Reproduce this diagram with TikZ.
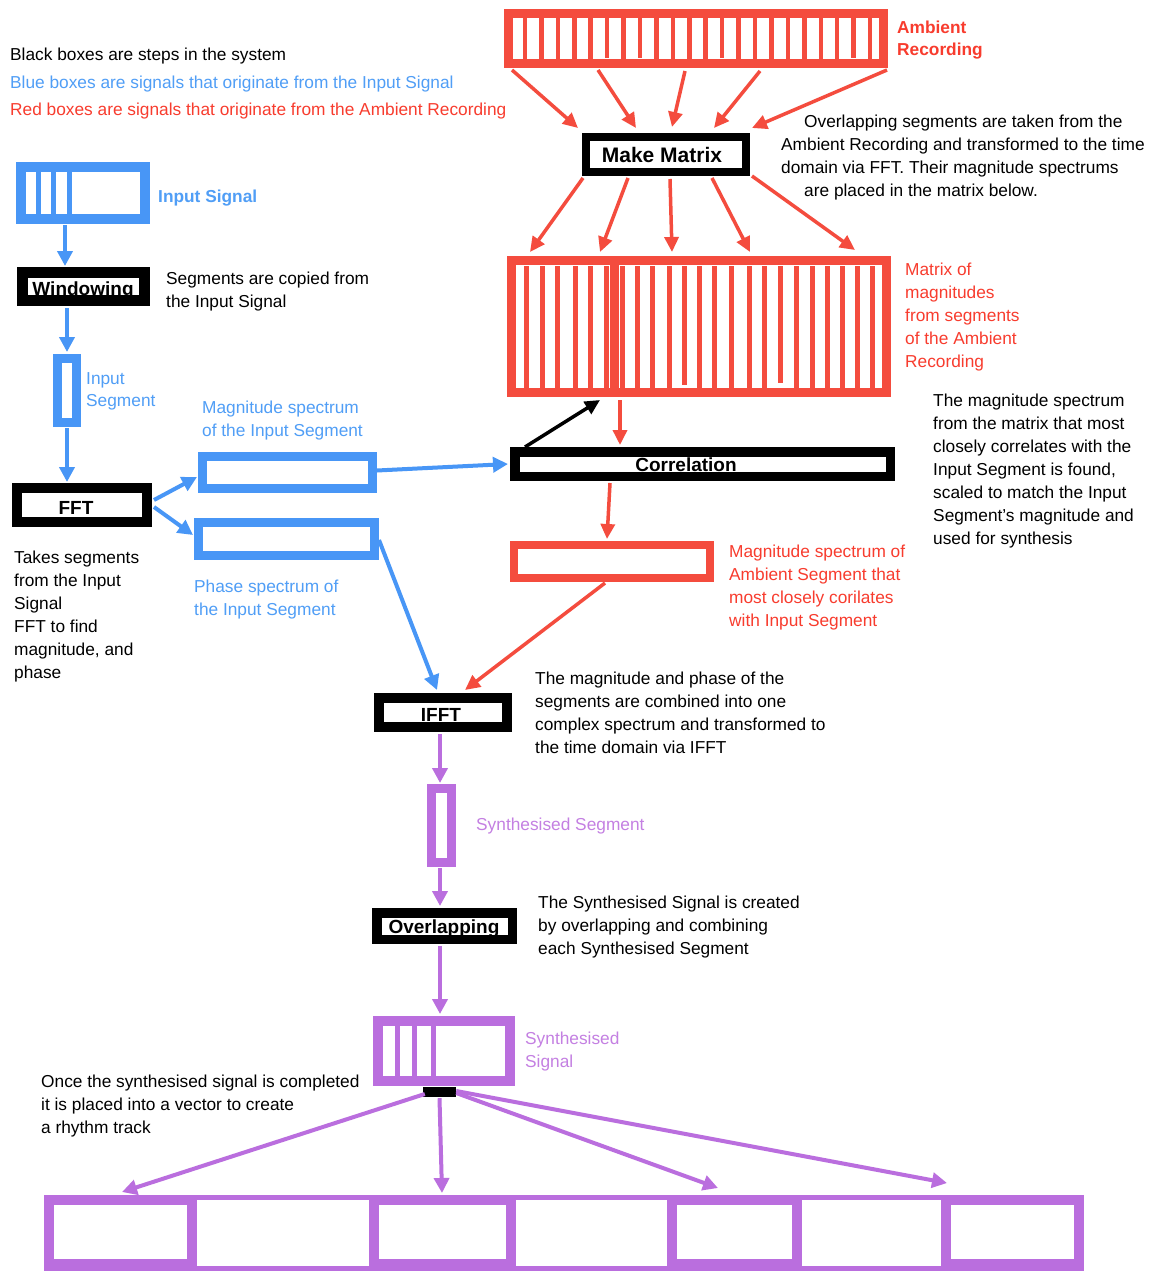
\documentclass[tikz,border=0pt]{standalone}
\usepackage{fontspec}
\setmainfont{Liberation Sans}
\usetikzlibrary{arrows.meta,calc}
\definecolor{cred}{RGB}{244,76,62}
\definecolor{cblue}{RGB}{72,150,246}
\definecolor{cpurp}{RGB}{186,110,222}
\definecolor{tred}{RGB}{248,60,46}
\definecolor{tblue}{RGB}{80,158,246}
\definecolor{tpurp}{RGB}{196,128,226}
\newcommand\mlines[1]{\begin{tabular}[t]{@{}l@{}}#1\end{tabular}}
\begin{document}
\begin{tikzpicture}[x=1pt,y=-1pt,
  redbox/.style={draw=cred, fill=white, inner sep=0pt, line width=9pt},
  bluebox/.style={draw=cblue, fill=white, inner sep=0pt, line width=9pt},
  purpbox/.style={draw=cpurp, fill=white, inner sep=0pt, line width=9pt},
  stepbox/.style={draw=black, fill=white, inner sep=0pt, line width=10pt},
  slot/.style={draw=cpurp, fill=white, line width=10pt, inner sep=0pt, minimum height=64pt},
  steplabel/.style={font=\fontsize{19}{23}\selectfont\bfseries, anchor=base, inner sep=0pt},
  txt/.style={font=\fontsize{17.3}{23}\selectfont, anchor=base west, inner sep=0pt},
  redarr/.style={draw=cred, line width=3.5pt, -{Triangle[length=15pt,width=14pt]}},
  bluearr/.style={draw=cblue, line width=4pt, -{Triangle[length=15pt,width=15pt]}},
  purparr/.style={draw=cpurp, line width=4pt, -{Triangle[length=15pt,width=15pt]}},
  blackarr/.style={draw=black, line width=3.5pt, -{Triangle[length=15pt,width=14pt]}},
]
\fill[white] (0,0) rectangle (1152,1271);
\useasboundingbox (0,0) rectangle (1152,1271);

% legend
\node[txt] (leg1) at (10,61) {Black boxes are steps in the system};
\node[txt, text=tblue] (leg2) at (10,89) {Blue boxes are signals that originate from the Input Signal};
\node[txt, text=tred] (leg3) at (10,116) {Red boxes are signals that originate from the Ambient Recording};

% ambient recording
\node[redbox, minimum width=375pt, minimum height=50pt] (amb) at (696,38.5) {};
\foreach \i/\b in {0/60,1/60,2/59,3/60,4/60,5/58,6/59,7/58,8/60,9/60,10/59,11/60,12/58,13/60,14/60,15/59,16/60,17/59,18/60,19/60,20/58,21/60}
  \fill[cred] ({525+16.43*\i-2.25},17) rectangle ({525+16.43*\i+2.25},\b);
\node[txt, text=tred, font=\fontsize{17.3}{22}\selectfont\bfseries] (ambT) at (897,34) {\mlines{Ambient\\Recording}};

% make matrix
\node[stepbox, line width=8pt, minimum width=160pt, minimum height=35pt] (mm) at (666,154.5) {};
\node[steplabel, font=\fontsize{21}{25}\selectfont\bfseries] (mmL) at (662,162.5) {Make Matrix};
\node[txt] (mmT) at (781,128) {\mlines{\hspace*{23pt}Overlapping segments are taken from the\\Ambient Recording and transformed to the time\\domain via FFT. Their magnitude spectrums\\\hspace*{23pt}are placed in the matrix below.}};

% matrix
\node[redbox, minimum width=375pt, minimum height=132pt] (mat) at (699,326.5) {};
\foreach \x/\b in {526/388,542/388,557/388,575/388,590/388,606/388,622/388,637/388,652/388,669/388,684/385,699/388,714/388,731/388,749/388,764/388,780/383,796/388,812/388,827/388,842/388,857/388,872/388}
  \fill[cred] (\x-2.5,266) rectangle (\x+2.5,\b);
\fill[cred] (610,264) rectangle (619,392);
\node[txt, text=tred] (matT) at (905,275) {\mlines{Matrix of\\magnitudes\\from segments\\of the Ambient\\Recording}};

% correlation
\node[stepbox, line width=9.5pt, minimum width=375.5pt, minimum height=24.5pt] (corr) at (702.5,464) {};
\node[steplabel] (corrL) at (686,471) {Correlation};
\node[txt] (corrT) at (933,406) {\mlines{The magnitude spectrum\\from the matrix that most\\closely correlates with the\\Input Segment is found,\\scaled to match the Input\\Segment’s magnitude and\\used for synthesis}};

% ambient segment
\node[redbox, line width=8pt, minimum width=196pt, minimum height=33pt] (seg) at (612,561.5) {};
\node[txt, text=tred] (segT) at (729,557) {\mlines{Magnitude spectrum of\\Ambient Segment that\\most closely corilates\\with Input Segment}};

% input signal
\node[bluebox, line width=10pt, minimum width=124pt, minimum height=52pt] (insig) at (83,193) {};
\foreach \x in {38,53,69} \fill[cblue] (\x-2.5,172) rectangle (\x+2.5,214);
\node[txt, text=tblue, font=\fontsize{17.3}{23}\selectfont\bfseries] (insigT) at (158,202) {Input Signal};

% windowing
\node[stepbox, line width=11pt, minimum width=122pt, minimum height=28pt] (win) at (83.5,286.5) {};
\node[steplabel] (winL) at (83,295) {Windowing};
\node[txt] (winT) at (166,284) {\mlines{Segments are copied from\\the Input Signal}};

% input segment
\node[bluebox, minimum width=19pt, minimum height=64pt] (inseg) at (67,390.5) {};
\node[txt, text=tblue, font=\fontsize{17.3}{22}\selectfont] (insegT) at (86,384) {\mlines{Input\\Segment}};

% FFT
\node[stepbox, minimum width=130pt, minimum height=34pt] (fft) at (82,505) {};
\node[steplabel] (fftL) at (76,514) {FFT};
\node[txt] (fftT) at (14,563) {\mlines{Takes segments\\from the Input\\Signal\\FFT to find\\magnitude, and\\phase}};

% spectra
\node[bluebox, minimum width=170pt, minimum height=32pt] (mag) at (287.5,472.5) {};
\node[txt, text=tblue] (magT) at (202,413) {\mlines{Magnitude spectrum\\of the Input Segment}};
\node[bluebox, minimum width=176pt, minimum height=33pt] (phase) at (286.5,539) {};
\node[txt, text=tblue] (phaseT) at (194,592) {\mlines{Phase spectrum of\\the Input Segment}};

% IFFT
\node[stepbox, minimum width=128pt, minimum height=29pt] (ifft) at (443,712.5) {};
\node[steplabel] (ifftL) at (441,721) {IFFT};
\node[txt] (ifftT) at (535,684) {\mlines{The magnitude and phase of the\\segments are combined into one\\complex spectrum and transformed to\\the time domain via IFFT}};

% synthesised segment
\node[purpbox, minimum width=20pt, minimum height=74pt] (sseg) at (441.5,825.5) {};
\node[txt, text=tpurp] (ssegT) at (476,830) {Synthesised Segment};

% overlapping
\node[stepbox, line width=9.5pt, minimum width=135.5pt, minimum height=26.5pt] (ovl) at (444.5,926) {};
\node[steplabel] (ovlL) at (444,933) {Overlapping};
\node[txt] (ovlT) at (538,908) {\mlines{The Synthesised Signal is created\\by overlapping and combining\\each Synthesised Segment}};

% synthesised signal
\node[purpbox, line width=10pt, minimum width=132pt, minimum height=60pt] (ssig) at (444,1051) {};
\foreach \x in {397,414,433} \fill[cpurp] (\x-2.5,1026) rectangle (\x+2.5,1076);
\node[txt, text=tpurp, font=\fontsize{17.3}{23}\selectfont] (ssigT) at (525,1044) {\mlines{Synthesised\\Signal}};
\node[txt] (vecT) at (41,1087) {\mlines{Once the synthesised signal is completed\\it is placed into a vector to create\\a rhythm track}};

% vector
\node[draw=cpurp, line width=5pt, inner sep=0pt, minimum width=1035pt, minimum height=71pt] (vec) at (564,1233) {};
\node[slot, minimum width=143pt] (s1) at (120.5,1232) {};
\node[slot, minimum width=137pt] (s2) at (442.5,1232) {};
\node[slot, minimum width=125pt] (s3) at (734.5,1232) {};
\node[slot, minimum width=133pt] (s4) at (1012.5,1232) {};

% arrows: ambient -> make matrix
\draw[redarr] ($(amb.south west)+(8,2)$) -- ($(mm.north west)+(-4,-5)$);
\draw[redarr] ($(amb.south)+(-98,2)$) -- ($(mm.north)+(-30,-5)$);
\draw[redarr] ($(amb.south)+(-11,3)$) -- ($(mm.north)+(6,-6)$);
\draw[redarr] ($(amb.south)+(64,3)$) -- ($(mm.north)+(48,-5)$);
\draw[redarr] ($(amb.south east)+(-1,2)$) -- ($(mm.north east)+(2,-5)$);
% make matrix -> matrix
\draw[redarr] ($(mm.south west)+(1,2)$) -- ($(mat.north)+(-169,-4)$);
\draw[redarr] ($(mm.south)+(-38,2)$) -- ($(mat.north)+(-99,-4)$);
\draw[redarr] ($(mm.south)+(4,3)$) -- ($(mat.north)+(-27,-4)$);
\draw[redarr] ($(mm.south)+(46,2)$) -- ($(mat.north)+(51,-4)$);
\draw[redarr] ($(mm.south east)+(2,0)$) -- ($(mat.north)+(156,-6)$);
% matrix <-> correlation
\draw[blackarr] ($(corr.north west)+(15,0)$) -- ($(mat.south)+(-99,3)$);
\draw[redarr] ($(mat.south)+(-79,3)$) -- ($(corr.north)+(-82.5,-2)$);
\draw[bluearr] ($(mag.east)+(0,-2)$) -- ($(corr.west)+(-2,0)$);
\draw[redarr] ($(corr.south)+(-92.5,2)$) -- ($(seg.north)+(-5,-2)$);
\draw[redarr] ($(seg.south)+(-7,1)$) -- ($(ifft.north)+(22,-3)$);
\draw[bluearr] ($(phase.east)+(0,1)$) -- ($(ifft.north)+(-6,-3)$);
% left column
\draw[bluearr] ($(fft.east)+(2,-5)$) -- ($(mag.west)+(-1,4.5)$);
\draw[bluearr] ($(fft.east)+(2,2)$) -- ($(phase.west)+(-1,-4)$);
\draw[bluearr] ($(insig.south)+(-18,1)$) -- ($(win.north)+(-18.5,-1)$);
\draw[bluearr] ($(win.south)+(-16.5,2)$) -- ($(inseg.north)+(0,-2)$);
\draw[bluearr] ($(inseg.south)+(0,1)$) -- ($(fft.north)+(-15,-1)$);
% purple chain
\draw[purparr] ($(ifft.south)+(-3,2)$) -- ($(sseg.north)+(-1.5,-1)$);
\draw[purparr] ($(sseg.south)+(-1.5,1)$) -- ($(ovl.north)+(-4.5,-2)$);
\draw[purparr] ($(ovl.south)+(-4.5,2)$) -- ($(ssig.north)+(-4,-2)$);
% black connector block and fan-out
\node[fill=black, inner sep=0pt, minimum width=33pt, minimum height=10pt] (blk) at (439.5,1092) {};
\draw[purparr] ($(blk.west)+(2,2)$) -- ($(vec.north)+(-442,-3)$);
\draw[purparr] ($(blk.south)+(0,1)$) -- ($(vec.north)+(-122,-2)$);
\draw[purparr] ($(blk.east)+(0,1)$) -- ($(vec.north)+(154,-7)$);
\draw[purparr] ($(blk.east)+(0,-1)$) -- ($(vec.north)+(383,-12)$);
\end{tikzpicture}
\end{document}
